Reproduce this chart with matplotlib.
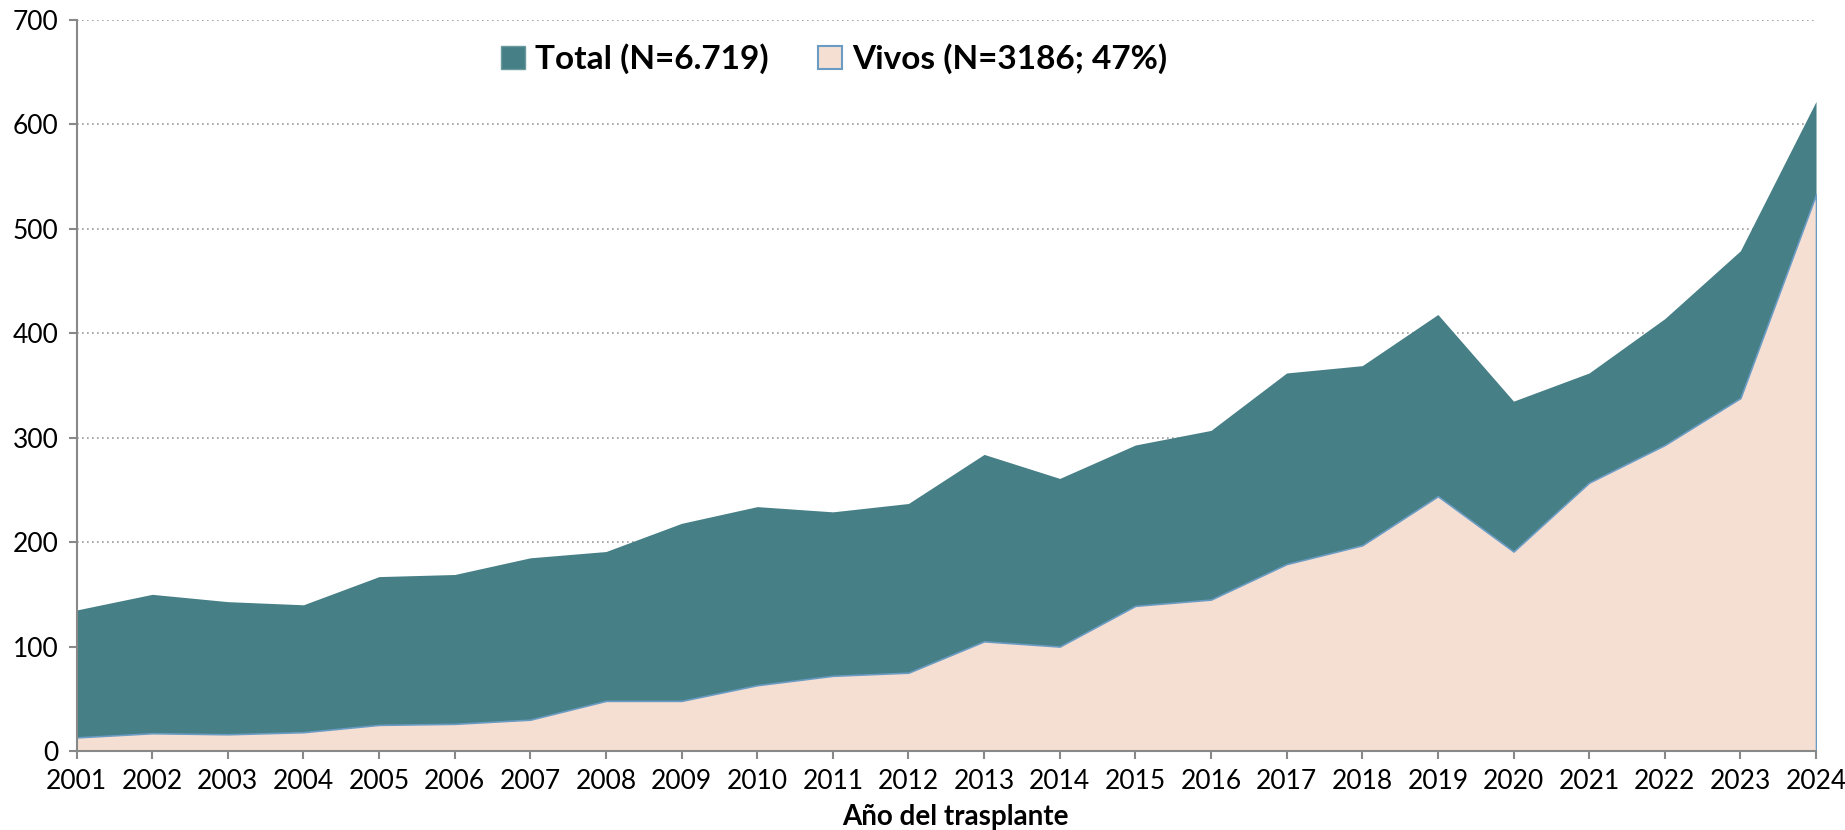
import numpy as np
import matplotlib.pyplot as plt
from matplotlib.patches import Patch

# Values
years = list(range(2001, 2025))
total = [135, 150, 143, 140, 167, 169, 185, 191, 218, 234, 229, 237,
         284, 261, 293, 307, 362, 369, 418, 335, 362, 414, 479, 622]
vivos = [13, 17, 16, 18, 25, 26, 30, 48, 48, 63, 72, 75,
         105, 100, 139, 145, 179, 197, 244, 191, 257, 293, 338, 533]
labels = ['Total (N=6.719)', 'Vivos (N=3186; 47%)']

teal = '#467F85'
pink = '#F5DFD3'
edge_blue = '#6A9BC3'

plt.rcParams['font.family'] = ['Lato', 'DejaVu Sans']

fig = plt.figure(figsize=(18.45, 8.3), dpi=100)
ax = fig.add_axes([0.0415, 0.0952, 0.9428, 0.8807])

ax.fill_between(years, 0, total, color=teal, linewidth=0, zorder=2)
ax.fill_between(years, 0, vivos, facecolor=pink, edgecolor=edge_blue,
                linewidth=1.2, zorder=3)

ax.set_xlim(years[0], years[-1])
ax.set_ylim(0, 700)
ax.set_xticks(years)
ax.set_yticks(np.arange(0, 701, 100))
ax.tick_params(axis='both', labelsize=19, colors='#888888', labelcolor='black',
               direction='out', length=6, width=1.5)
ax.tick_params(axis='y', pad=7)
ax.tick_params(axis='x', pad=7)

ax.yaxis.grid(True, linestyle=(0, (1, 2)), color='#999999', linewidth=1.2, zorder=1)
ax.set_axisbelow(True)
for s in ['top', 'right']:
    ax.spines[s].set_visible(False)
for s in ['left', 'bottom']:
    ax.spines[s].set_color('#888888')
    ax.spines[s].set_linewidth(1.5)
    ax.spines[s].set_zorder(4)

ax.set_xlabel('Año del trasplante', fontsize=20, fontweight='bold', labelpad=3)
ax.xaxis.set_label_coords(0.505, -0.072)

handles = [Patch(facecolor=teal, edgecolor='#6a9aa0', linewidth=1),
           Patch(facecolor=pink, edgecolor=edge_blue, linewidth=1.5)]
leg = ax.legend(handles, labels, loc='center', bbox_to_anchor=(0.4355, 0.947),
                ncol=2, frameon=False, handlelength=0.7, handleheight=0.7,
                handletextpad=0.3, columnspacing=1.5,
                prop={'size': 24, 'weight': 'bold'})

fig.savefig('out.png', dpi=100)
